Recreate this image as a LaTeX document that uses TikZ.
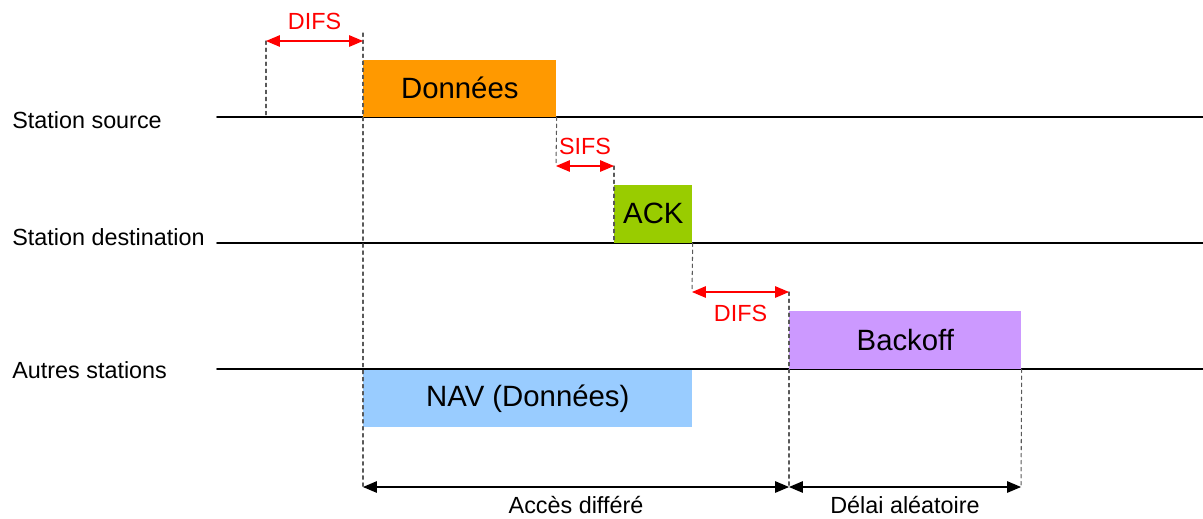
\documentclass[tikz,border=0pt]{standalone}
\usepackage{fontspec}
\setmainfont{Liberation Sans}
\usetikzlibrary{arrows}
\usetikzlibrary{positioning}

\definecolor{dataorange}{HTML}{FF9900}
\definecolor{ackgreen}{HTML}{99CC00}
\definecolor{boffviolet}{HTML}{CC99FF}
\definecolor{navblue}{HTML}{99CCFF}

\tikzset{
  frame/.style={inner sep=0pt, font=\fontsize{16.7}{20}\selectfont},
  lbl/.style={inner sep=0pt, font=\fontsize{13.3}{16}\selectfont},
  axis/.style={line width=1.1pt},
  guide/.style={black!65, line width=0.6pt, dash pattern=on 2pt off 2pt},
  gap/.style={red, <->, line width=0.8pt},
  span/.style={<->, line width=0.8pt}
}

\begin{document}
\begin{tikzpicture}[line cap=round,line join=round,>=triangle 45,x=0.02cm,y=-0.02cm]
\useasboundingbox (0,0) rectangle (1203,518);
% stations
\node[lbl, anchor=west] (src) at (12,120) {Station source};
\node[lbl, anchor=west] (dst) at (12,237) {Station destination};
\node[lbl, anchor=west] (oth) at (12,370) {Autres stations};
\draw[axis] (217,117) -- (1203,117);
\draw[axis] (217,243) -- (1203,243);
\draw[axis] (217,369) -- (1203,369);
% trames
\node[frame, fill=dataorange, anchor=south west, minimum width=3.86cm, minimum height=1.14cm] (data) at (363,117) {Données};
\node[frame, fill=ackgreen, anchor=south west, minimum width=1.56cm, minimum height=1.16cm] (ack) at (614,243) {ACK};
\node[frame, fill=boffviolet, anchor=south west, minimum width=4.64cm, minimum height=1.16cm] (backoff) at (789,369) {Backoff};
\node[frame, fill=navblue, anchor=north west, minimum width=6.58cm, minimum height=1.14cm] (nav) at (363,370) {NAV (Données)};
% reperes
\coordinate (difs1a) at (266,41);
\coordinate (difs1b) at (363,41);
\coordinate (sifsa) at (556,166);
\coordinate (sifsb) at (614,166);
\coordinate (difs2a) at (692,292);
\coordinate (difs2b) at (789,292);
\coordinate (acca) at (363,487);
\coordinate (accb) at (789,487);
\coordinate (rnd) at (1021,487);
\draw[guide] (difs1a) -- (266,117);
\draw[guide] (363,33) -- (acca);
\draw[guide] (data.south east) -- (sifsa);
\draw[guide] (sifsb) -- (ack.south west);
\draw[guide] (ack.south east) -- (difs2a);
\draw[guide] (difs2b) -- (accb);
\draw[guide] (backoff.south east) -- (rnd);
% intervalles
\draw[gap] (difs1a) -- node[lbl, above=6pt, text=red] (difs1) {DIFS} (difs1b);
\draw[gap] (sifsa) -- node[lbl, above=6pt, text=red] (sifs) {SIFS} (sifsb);
\draw[gap] (difs2a) -- node[lbl, below=7pt, text=red] (difs2) {DIFS} (difs2b);
\draw[span] (acca) -- node[lbl, below=5pt] (acc) {Accès différé} (accb);
\draw[span] (accb) -- node[lbl, below=5pt] (delai) {Délai aléatoire} (rnd);
\end{tikzpicture}
\end{document}
